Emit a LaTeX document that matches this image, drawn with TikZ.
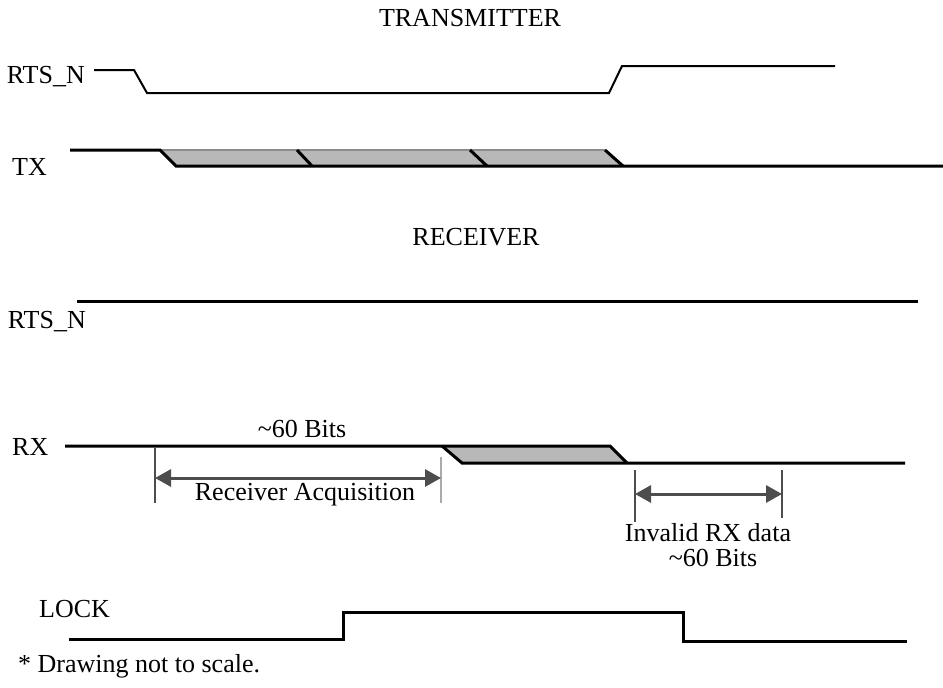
\documentclass[tikz,border=0pt]{standalone}
\usepackage{fontspec}
\setmainfont{Liberation Serif}
\usetikzlibrary{arrows.meta}
\definecolor{dimgray}{HTML}{4D4D4D}
\definecolor{lightdim}{HTML}{AAAAAA}
\tikzset{
  sig/.style={line width=3pt, black, line join=miter},
  thinsig/.style={line width=2pt, black},
  band/.style={fill=black!28, draw=none},
  lbl/.style={font=\fontsize{26}{29}\selectfont, inner sep=0pt, anchor=base west},
  rlbl/.style={font=\fontsize{26}{29}\selectfont, inner sep=0pt, anchor=base east},
  ctext/.style={font=\fontsize{26}{29}\selectfont, inner sep=0pt, anchor=base},
  dimline/.style={line width=3pt, dimgray, {Triangle[length=16pt,width=17pt]}-{Triangle[length=16pt,width=17pt]}},
  tick/.style={line width=2.5pt, dimgray},
  ltick/.style={line width=2.5pt, lightdim}
}
\begin{document}
\begin{tikzpicture}[x=1pt,y=-1pt]
\useasboundingbox (0,0) rectangle (943,688);
% headings
\node[ctext] (tx-head) at (470,27) {TRANSMITTER};
\node[ctext] (rx-head) at (476,245) {RECEIVER};
% labels
\node[rlbl] (l-rts1) at (85,83) {RTS\_N};
\node[lbl] (l-tx) at (12,175) {TX};
\node[rlbl] (l-rts2) at (86,328) {RTS\_N};
\node[lbl] (l-rx) at (12,455) {RX};
\node[lbl] (l-lock) at (39,617) {LOCK};
\node[lbl] (l-note) at (18,672) {* Drawing not to scale.};
% TX RTS_N
\draw[thinsig] (94,70) -- (134,70) -- (147,93) -- (609,93) -- (622,66) -- (835,66);
% TX data
\fill[band] (160,150) -- (605,150) -- (623,166) -- (176,166) -- cycle;
\draw[line width=1.5pt, black!45] (160,150) -- (605,150);
\draw[sig] (70,150) -- (160,150) -- (176,166) -- (943,166);
\draw[sig] (297,150) -- (312,166);
\draw[sig] (470,150) -- (487,166);
\draw[sig] (605,150) -- (623,166);
% RX RTS_N
\draw[sig] (77,301) -- (918,301);
% RX data
\fill[band] (442,446) -- (610,446) -- (627,463) -- (462,463) -- cycle;
\draw[sig] (65,446) -- (610,446) -- (627,463);
\draw[sig] (442,446) -- (462,463) -- (905,463);
% acquisition dimension
\coordinate (a1t) at (155,448); \coordinate (a1b) at (155,503);
\coordinate (a2t) at (441,457); \coordinate (a2b) at (441,503);
\coordinate (a1) at (155,478); \coordinate (a2) at (441,478);
\draw[tick] (a1t) -- (a1b);
\draw[ltick] (a2t) -- (a2b);
\draw[dimline] (a1) -- (a2);
\node[ctext] (bits1) at (302,437) {\textasciitilde 60 Bits};
\node[ctext] (acq) at (305,500) {Receiver Acquisition};
% invalid dimension
\coordinate (b1t) at (635,470); \coordinate (b1b) at (635,522);
\coordinate (b2t) at (782,470); \coordinate (b2b) at (782,518);
\coordinate (b1) at (635,494); \coordinate (b2) at (782,494);
\draw[tick] (b1t) -- (b1b);
\draw[tick] (b2t) -- (b2b);
\draw[dimline] (b1) -- (b2);
\node[ctext] (inv) at (708,541) {Invalid RX data};
\node[ctext] (bits2) at (713,566) {\textasciitilde 60 Bits};
% LOCK
\draw[sig] (69,639) -- (343,639) -- (343,612) -- (683,612) -- (683,641) -- (907,641);
\end{tikzpicture}
\end{document}
